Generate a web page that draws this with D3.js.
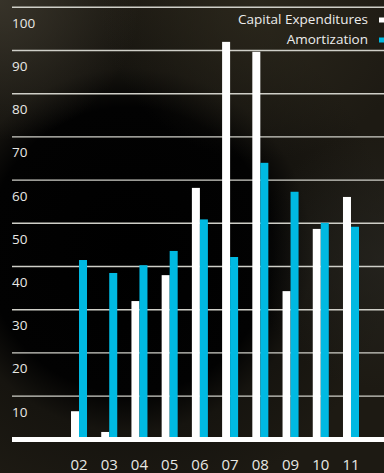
<!DOCTYPE html>
<html>
<head>
<meta charset="utf-8">
<script src="https://cdn.jsdelivr.net/npm/d3@7"></script>
<style>
  html, body { margin: 0; padding: 0; background: #0c0b09; }
  svg { display: block; }
  text { font-family: "Open Sans", sans-serif; }
</style>
</head>
<body>
<svg id="chart" width="384" height="473"></svg>
<script>
// Capital expenditures vs. amortization, fiscal years 2002–2011
const years = ["02", "03", "04", "05", "06", "07", "08", "09", "10", "11"];
const capitalExpenditures = [6.5, 1.7, 32.0, 38.0, 58.2, 92.0, 89.7, 34.3, 48.7, 56.1];
const amortization = [41.5, 38.5, 40.3, 43.6, 50.9, 42.2, 64.0, 57.3, 50.1, 49.2];
const yTicks = [10, 20, 30, 40, 50, 60, 70, 80, 90, 100];
const seriesNames = ["Capital Expenditures", "Amortization"];
const seriesColors = ["#ffffff", "#00b9e2"];

const W = 384, H = 473;
const svg = d3.select("#chart");

// Dark photographic backdrop
const defs = svg.append("defs");
const g1 = defs.append("radialGradient").attr("id", "bgGlow")
  .attr("gradientUnits", "userSpaceOnUse").attr("cx", 130).attr("cy", 250).attr("r", 260);
g1.append("stop").attr("offset", "0%").attr("stop-color", "#000000");
g1.append("stop").attr("offset", "55%").attr("stop-color", "#020202");
g1.append("stop").attr("offset", "70%").attr("stop-color", "#16140f");
g1.append("stop").attr("offset", "100%").attr("stop-color", "#1d1a13");
svg.append("rect").attr("width", W).attr("height", H).attr("fill", "url(#bgGlow)");

const g2 = defs.append("radialGradient").attr("id", "topLeft")
  .attr("gradientUnits", "userSpaceOnUse").attr("cx", 0).attr("cy", 0).attr("r", 140);
g2.append("stop").attr("offset", "0%").attr("stop-color", "#3a362c").attr("stop-opacity", 0.9);
g2.append("stop").attr("offset", "100%").attr("stop-color", "#3a362c").attr("stop-opacity", 0);
svg.append("rect").attr("width", W).attr("height", H).attr("fill", "url(#topLeft)");

const g3 = defs.append("radialGradient").attr("id", "rightSide")
  .attr("gradientUnits", "userSpaceOnUse").attr("cx", 384).attr("cy", 260).attr("r", 130);
g3.append("stop").attr("offset", "0%").attr("stop-color", "#25241f").attr("stop-opacity", 0.8);
g3.append("stop").attr("offset", "100%").attr("stop-color", "#25241f").attr("stop-opacity", 0);
svg.append("rect").attr("width", W).attr("height", H).attr("fill", "url(#rightSide)");

const g4 = defs.append("radialGradient").attr("id", "topRight")
  .attr("gradientUnits", "userSpaceOnUse").attr("cx", 260).attr("cy", 0).attr("r", 160);
g4.append("stop").attr("offset", "0%").attr("stop-color", "#2e2a1e").attr("stop-opacity", 0.8);
g4.append("stop").attr("offset", "100%").attr("stop-color", "#2e2a1e").attr("stop-opacity", 0);
svg.append("rect").attr("width", W).attr("height", H).attr("fill", "url(#topRight)");

// Scales
const y = d3.scaleLinear().domain([0, 100]).range([439.3, 7.3]);
const x0 = d3.scaleBand().domain(years).range([63.9, 366.1]).paddingInner(0.47).paddingOuter(0.235);
const x1 = d3.scaleBand().domain(seriesNames).range([0, x0.bandwidth()]);

// Horizontal gridlines with labels beneath each line
const grid = svg.append("g");
grid.selectAll("line").data(yTicks).join("line")
  .attr("x1", 12).attr("x2", W)
  .attr("y1", d => y(d)).attr("y2", d => y(d))
  .attr("stroke", "#cfcfc8").attr("stroke-width", 1.4);
grid.selectAll("text").data(yTicks).join("text")
  .attr("x", 12).attr("y", d => y(d) + 20.5)
  .attr("fill", "#e8e8e4").attr("font-size", 13.5)
  .text(d => d);

// Grouped bars
const rows = years.map((yr, i) => ({ yr, vals: [capitalExpenditures[i], amortization[i]] }));
const groups = svg.append("g").selectAll("g").data(rows).join("g")
  .attr("transform", d => `translate(${x0(d.yr)},0)`);
groups.selectAll("rect").data(d => d.vals.map((v, k) => ({ v, k })))
  .join("rect")
  .attr("x", d => x1(seriesNames[d.k]))
  .attr("width", x1.bandwidth())
  .attr("y", d => y(d.v))
  .attr("height", d => y(0) - y(d.v))
  .attr("fill", d => seriesColors[d.k]);

// Baseline
svg.append("rect").attr("x", 12).attr("y", y(0) - 2.3).attr("width", W - 12).attr("height", 5)
  .attr("fill", "#ffffff");

// Category axis labels
const xAxis = d3.axisBottom(x0).tickSize(0).tickPadding(0);
const xg = svg.append("g").attr("transform", "translate(0,470)").call(xAxis);
xg.select(".domain").remove();
xg.selectAll("text")
  .attr("dy", 0).attr("y", 0)
  .attr("fill", "#e8e8e4")
  .attr("font-size", 15)
  .attr("font-family", "'Open Sans', sans-serif");

// Legend
const legend = svg.append("g");
seriesNames.forEach((name, i) => {
  const ly = 24 + i * 20;
  legend.append("text").attr("x", 368).attr("y", ly)
    .attr("text-anchor", "end").attr("fill", "#ececec").attr("font-size", 13.5)
    .text(name);
  legend.append("rect").attr("x", 379).attr("y", ly - 6.5).attr("width", 5).attr("height", 5)
    .attr("fill", seriesColors[i]);
});
</script>
</body>
</html>
